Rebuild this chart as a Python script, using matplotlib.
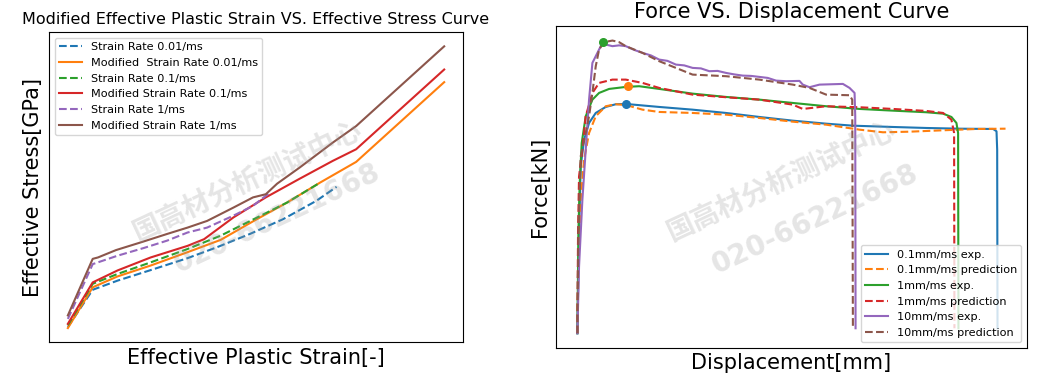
import matplotlib.pyplot as plt
import numpy as np

# ---- left: effective plastic strain vs effective stress ----
strain_001 = [0, 0.033, 0.066, 0.110, 0.159, 0.198, 0.242, 0.286, 0.330, 0.357]
stress_001 = [0.204, 0.310, 0.336, 0.366, 0.400, 0.431, 0.469, 0.511, 0.563, 0.603]

strain_001_mod = [0, 0.033, 0.066, 0.110, 0.159, 0.203, 0.247, 0.291, 0.335, 0.383, 0.5]
stress_001_mod = [0.201, 0.317, 0.348, 0.379, 0.417, 0.452, 0.506, 0.558, 0.615, 0.674, 0.901]

strain_01 = [0, 0.033, 0.066, 0.110, 0.159, 0.203, 0.247, 0.291, 0.332]
stress_01 = [0.209, 0.327, 0.355, 0.388, 0.426, 0.464, 0.511, 0.558, 0.611]

strain_01_mod = [0, 0.033, 0.066, 0.110, 0.159, 0.181, 0.220, 0.263, 0.307, 0.352, 0.383, 0.5]
stress_01_mod = [0.213, 0.331, 0.365, 0.402, 0.435, 0.454, 0.516, 0.573, 0.625, 0.677, 0.710, 0.937]

strain_1 = [0, 0.033, 0.066, 0.101, 0.132, 0.159, 0.185, 0.220, 0.246, 0.268]
stress_1 = [0.227, 0.383, 0.407, 0.429, 0.450, 0.473, 0.487, 0.521, 0.549, 0.586]

strain_1_mod = [0, 0.033, 0.040, 0.064, 0.097, 0.132, 0.159, 0.185, 0.220, 0.246, 0.263, 0.278,
                0.308, 0.352, 0.383, 0.5]
stress_1_mod = [0.237, 0.398, 0.402, 0.423, 0.445, 0.469, 0.487, 0.506, 0.544, 0.573, 0.582, 0.612,
                0.658, 0.729, 0.776, 1.003]

# ---- right: force vs displacement ----
disp_01_exp = [0, 0.02, 0.04, 0.08, 0.14, 0.22, 0.34, 0.46, 0.58, 0.98, 1.38, 1.78, 2.18, 2.58,
               2.98, 3.3, 3.78, 4.18, 4.58, 4.98, 5.02, 5.028, 5.032]
force_01_exp = [0, 10, 16.67, 19.33, 21, 22, 22.6, 22.87, 22.9, 22.6, 22.33, 22, 21.6, 21.23,
                20.93, 20.73, 20.6, 20.5, 20.43, 20.4, 20.17, 18.33, 0.5]

disp_01_pred = [0, 0.012, 0.04, 0.08, 0.14, 0.22, 0.34, 0.46, 0.58, 0.78, 0.98, 1.38, 1.78, 2.18,
                2.58, 2.98, 3.38, 3.66, 3.98, 4.38, 4.78, 5.128]
force_01_pred = [0, 6.67, 13.33, 17.33, 20, 21.67, 22.67, 22.87, 22.8, 22.33, 22.1, 22, 21.83, 21.5,
                 21.13, 20.83, 20.33, 20.07, 20.13, 20.27, 20.4, 20.43]

disp_1_exp = [0, 0.012, 0.028, 0.052, 0.1, 0.18, 0.26, 0.38, 0.58, 0.74, 0.98, 1.38, 1.78, 2.18,
              2.58, 2.98, 3.38, 3.78, 4.18, 4.38, 4.48, 4.54, 4.56, 4.564]
force_1_exp = [0, 10, 15, 19, 21.67, 23.33, 24, 24.4, 24.6, 24.67, 24.4, 23.93, 23.6, 23.33,
               23, 22.67, 22.4, 22.23, 22.07, 21.93, 21.6, 21, 20, 0.5]

disp_1_pred = [0, 0.008, 0.02, 0.06, 0.1, 0.18, 0.26, 0.42, 0.58, 0.78, 0.98, 1.38, 1.78, 2.18,
               2.58, 2.7, 2.98, 3.38, 3.78, 4.18, 4.38, 4.48, 4.512, 4.516]
force_1_pred = [0, 10, 15.67, 18.33, 21.67, 24, 25, 25.33, 25.33, 25, 24.5, 23.83, 23.57, 23.33,
                22.83, 22.4, 22.67, 22.57, 22.4, 22.2, 22, 21.33, 20, 0.5]

disp_10_exp = [0, 0.02, 0.06, 0.1, 0.14, 0.18, 0.24, 0.30, 0.34, 0.42, 0.5, 0.58, 0.68, 0.78, 0.88,
               0.98, 1.08, 1.18, 1.28, 1.38, 1.48, 1.58, 1.68, 1.78, 1.88, 1.98, 2.08, 2.18, 2.28,
               2.38, 2.5, 2.66, 2.7, 2.78, 2.9, 3.18, 3.26, 3.32, 3.328, 3.332]
force_10_exp = [0, 6.67, 13.33, 18.33, 23.33, 27, 28, 29, 28.83, 28.67, 28.75, 28.67, 28.3, 28,
                27.75, 27.33, 27.2, 26.83, 26.75, 26.5, 26.45, 26.17, 26.2, 26, 25.85, 25.73,
                25.7, 25.6, 25.5, 25.23, 25.17, 25.2, 24.83, 24.57, 24.83, 24.9, 24.5, 24, 21.67, 0.5]

disp_10_pred = [0, 0.012, 0.04, 0.1, 0.14, 0.18, 0.22, 0.26, 0.32, 0.42, 0.5, 0.58, 0.78, 0.98,
                1.18, 1.38, 1.78, 2.18, 2.58, 2.78, 2.98, 3.26, 3.292, 3.3]
force_10_pred = [0, 10, 17.67, 20, 21.67, 24, 26.67, 28.33, 29.07, 29.23, 29.07, 28.67, 28, 27.17,
                 26.5, 25.83, 25.67, 25.33, 24.83, 24.5, 23.83, 23.77, 23.33, 0.5]

# peak points
peak_disp = [0.58, 0.608, 0.308]
peak_force = [22.9, 24.67, 29.13]

fig = plt.figure(figsize=(10.48, 3.84), dpi=100)

ax1 = fig.add_axes([0.0468, 0.109, 0.395, 0.807])
ax1.plot(strain_001, stress_001, '--', label='Strain Rate 0.01/ms')
ax1.plot(strain_001_mod, stress_001_mod, '-', label='Modified  Strain Rate 0.01/ms')
ax1.plot(strain_01, stress_01, '--', label='Strain Rate 0.1/ms')
ax1.plot(strain_01_mod, stress_01_mod, '-', label='Modified Strain Rate 0.1/ms')
ax1.plot(strain_1, stress_1, '--', label='Strain Rate 1/ms')
ax1.plot(strain_1_mod, stress_1_mod, '-', label='Modified Strain Rate 1/ms')
ax1.set_xticks([])
ax1.set_yticks([])
ax1.set_title('Modified Effective Plastic Strain VS. Effective Stress Curve', fontsize=11.5)
ax1.set_xlabel('Effective Plastic Strain[-]', fontsize=15)
ax1.set_ylabel('Effective Stress[GPa]', fontsize=15)
ax1.legend(loc='upper left', fontsize=8.1)

ax2 = fig.add_axes([0.5305, 0.094, 0.4494, 0.8385])
ax2.plot(disp_01_exp, force_01_exp, '-', label='0.1mm/ms exp.')
ax2.plot(disp_01_pred, force_01_pred, '--', label='0.1mm/ms prediction')
ax2.plot(disp_1_exp, force_1_exp, '-', label='1mm/ms exp.')
ax2.plot(disp_1_pred, force_1_pred, '--', label='1mm/ms prediction')
ax2.plot(disp_10_exp, force_10_exp, '-', label='10mm/ms exp.')
ax2.plot(disp_10_pred, force_10_pred, '--', label='10mm/ms prediction')
for i in range(3):
    ax2.scatter(peak_disp[i], peak_force[i], color='C%d' % i, s=30, zorder=3)
ax2.set_xticks([])
ax2.set_yticks([])
ax2.set_title('Force VS. Displacement Curve', fontsize=15)
ax2.set_xlabel('Displacement[mm]', fontsize=15)
ax2.set_ylabel('Force[kN]', fontsize=15)
ax2.legend(loc='lower right', fontsize=8.1)

# watermark
for ax in (ax1, ax2):
    ax.text(0.48, 0.52, '国高材分析测试中心', transform=ax.transAxes, rotation=25,
            ha='center', va='center', fontsize=20, fontweight='bold', color='0.6',
            alpha=0.25, family=['Noto Sans CJK SC', 'DejaVu Sans'], zorder=5)
    ax.text(0.55, 0.40, '020-66221668', transform=ax.transAxes, rotation=25,
            ha='center', va='center', fontsize=20, fontweight='bold', color='0.6',
            alpha=0.25, zorder=5)

plt.savefig('out.png', dpi=100)
